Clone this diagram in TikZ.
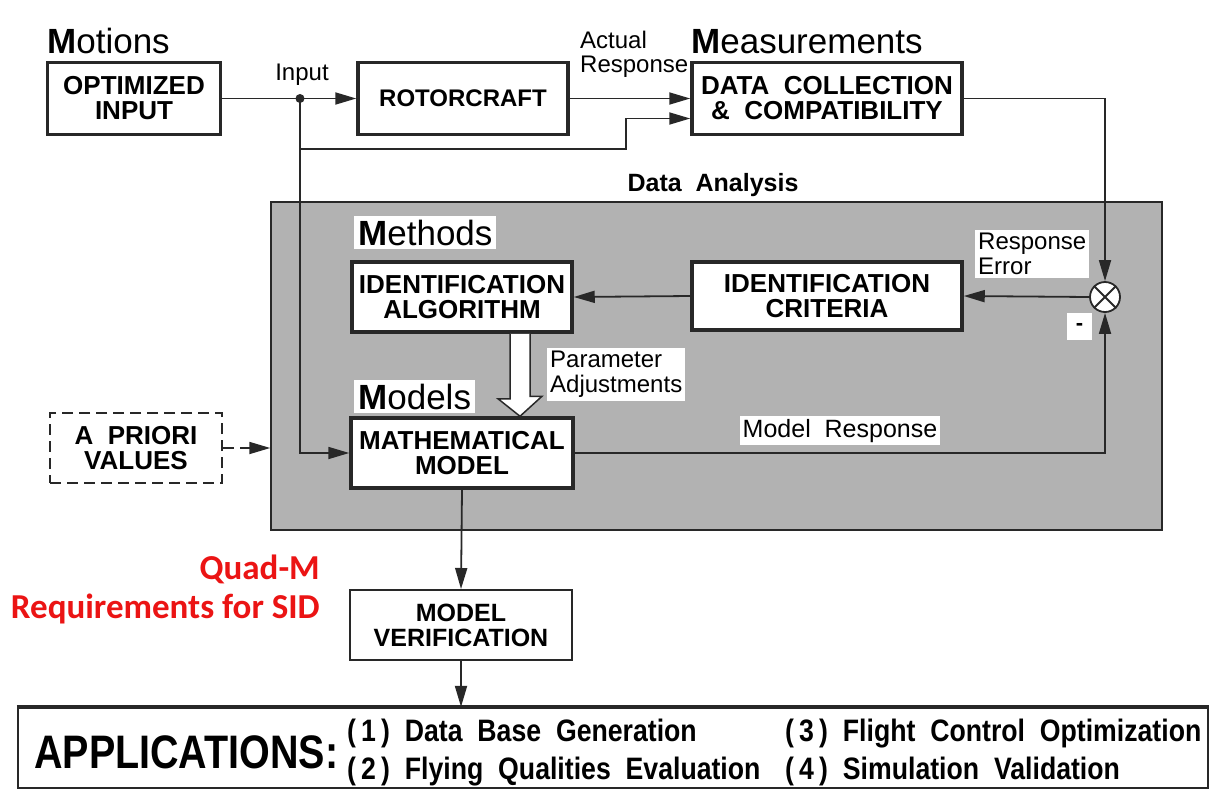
\documentclass[tikz,border=0pt]{standalone}
\usepackage{fontspec}
\setmainfont{Liberation Sans}
\newfontfamily\narrowf[FakeStretch=0.84]{Liberation Sans}
\newfontfamily\itemf[FakeStretch=0.86]{Liberation Sans}
\newfontfamily\calib{Carlito}
\usetikzlibrary{arrows.meta,calc}
\definecolor{panelgray}{RGB}{178,178,178}
\definecolor{ink}{RGB}{40,40,40}
\definecolor{quadred}{RGB}{235,20,20}
\newcommand\fsz[2]{\fontsize{#1}{#2}\selectfont}
\begin{document}
\begin{tikzpicture}[x=1pt,y=-1pt,
  box/.style={draw=ink,line width=3.5pt,fill=white,align=center,inner sep=0pt,
              font=\fsz{26}{25}\bfseries},
  arr/.style={draw=ink,line width=1.8pt,-{Triangle[length=21pt,width=12pt]}},
  lbl/.style={font=\fsz{24}{25},inner sep=0pt},
  wlbl/.style={font=\fsz{24}{25},fill=white,inner sep=3pt,align=left},
  hdr/.style={font=\fsz{35}{36},inner sep=0pt},
  appf/.style={font=\itemf\bfseries\fsz{31}{32},inner sep=0pt,anchor=base west},
  redf/.style={font=\calib\bfseries\fsz{35}{36},text=quadred,inner sep=0pt,anchor=base east}]
\useasboundingbox (0,0) rectangle (1212,790);
\fill[white] (0,0) rectangle (1212,790);

% data analysis panel
\node[draw=ink,line width=1.5pt,fill=panelgray,minimum width=891pt,minimum height=328pt,inner sep=0pt] (da) at (716.5,366) {};
\node[anchor=base,font=\fsz{25}{26}\bfseries,inner sep=0pt] (tda) at (713,191) {Data\ \ Analysis};

% top row
\node[hdr,anchor=base west] (tmot) at (47,53) {{\bfseries M}otions};
\node[hdr,anchor=base west] (tmea) at (691,53) {{\bfseries M}easurements};
\node[box,minimum width=173pt,minimum height=72pt] (opt) at (134,98.5) {OPTIMIZED\\INPUT};
\node[box,font=\fsz{24}{25}\bfseries,minimum width=210pt,minimum height=72pt] (rot) at (463,98.5) {ROTORCRAFT};
\node[box,minimum width=270pt,minimum height=72pt] (dat) at (827,98.5) {DATA\ \ COLLECTION\\\&\ \ COMPATIBILITY};
\node[lbl,anchor=base] (tin) at (302,80) {Input};
\node[lbl,anchor=base west] (tact1) at (580,48) {Actual};
\node[lbl,anchor=base west] (tact2) at (580,72) {Response};

% methods / models
\node[hdr,fill=white,inner sep=4pt,anchor=base west] (tmeth) at (354,245) {{\bfseries M}ethods};
\node[hdr,fill=white,inner sep=4pt,anchor=base west] (tmod) at (354,409) {{\bfseries M}odels};
\node[box,minimum width=220pt,minimum height=70pt] (alg) at (462,297) {IDENTIFICATION\\ALGORITHM};
\node[box,minimum width=270pt,minimum height=68pt] (cri) at (827,296) {IDENTIFICATION\\CRITERIA};
\node[box,minimum width=222pt,minimum height=70pt] (mm) at (462,453) {MATHEMATICAL\\MODEL};
\node[box,line width=2pt,dash pattern=on 11pt off 6pt,minimum width=172pt,minimum height=70pt] (pri) at (136,448) {A\ \ PRIORI\\VALUES};
\node[box,font=\fsz{25}{25}\bfseries,line width=2pt,minimum width=222pt,minimum height=70pt] (ver) at (461,625) {MODEL\\VERIFICATION};

% summing junction
\node[circle,draw=ink,line width=1.8pt,fill=white,minimum size=30pt,inner sep=0pt] (sum) at (1105,297) {};
\draw[ink,line width=1.8pt] (sum.north west) -- (sum.south east) (sum.north east) -- (sum.south west);

% labels with white background
\node[wlbl,anchor=north west] (terr) at (975,230) {Response\\Error};
\node[fill=white,minimum width=25pt,minimum height=27pt,inner sep=0pt,font=\fsz{22}{24}\bfseries] (tminus) at (1079.5,326.5) {-};
\node[wlbl,anchor=north west] (tpar) at (547,348) {Parameter\\Adjustments};
\node[wlbl,anchor=base,font=\fsz{25}{26}] (tmr) at (840,437) {Model\ \ Response};

% connectors
\coordinate (in) at (300,98.5);
\draw[ink,line width=1.8pt] (opt.east) -- (in);
\draw[arr] (in) -- (rot.west);
\fill[ink] (in) circle (4.5pt);
\draw[arr] (rot.east) -- (dat.west);
\draw[arr] (in) -- ++(0,50.5) -| ($(dat.west)+(-64,20)$) -- ($(dat.west)+(0,20)$);
\draw[arr] (in) |- (mm.west);
\draw[arr] (dat.east) -| (sum.north);
\draw[arr] (sum.west) -- (cri.east);
\draw[arr] (cri.west) -- (alg.east);
\draw[arr] (mm.east) -| (sum.south);
\draw[arr,dash pattern=on 11pt off 6pt] (pri.east) -- (pri.east -| da.west);
\draw[draw=ink,line width=1.5pt,fill=white] ($(alg.south)+(48,0)$) -- ++(0,65) -- ++(-12,0)
   -- ($(mm.north)+(58,0)$) -- ++(22,-20) -- ++(-12,0) -- ($(alg.south)+(68,0)$);

% applications
\node[draw=ink,line width=2.2pt,minimum width=1190pt,minimum height=80pt,inner sep=0pt] (app) at (613,748) {};
\draw[ink,line width=4pt] (app.north west) -- (app.north east);
\draw[arr] (mm.south) -- (ver.north);
\draw[arr] (ver.south) -- (ver.south |- app.north);
\node[font=\narrowf\bfseries\fsz{47}{50},inner sep=0pt,anchor=base west] (tapp) at (34,768) {APPLICATIONS:};
\node[appf] (a1) at (347,741) {(\,1\,)\ \ Data\ \ Base\ \ Generation};
\node[appf] (a2) at (347,779) {(\,2\,)\ \ Flying\ \ Qualities\ \ Evaluation};
\node[appf] (a3) at (785,741) {(\,3\,)\ \ Flight\ \ Control\ \ Optimization};
\node[appf] (a4) at (785,779) {(\,4\,)\ \ Simulation\ \ Validation};

% red annotation
\node[redf] (q1) at (320,579) {Quad-M};
\node[redf] (q2) at (320,618) {Requirements for SID};
\end{tikzpicture}
\end{document}
